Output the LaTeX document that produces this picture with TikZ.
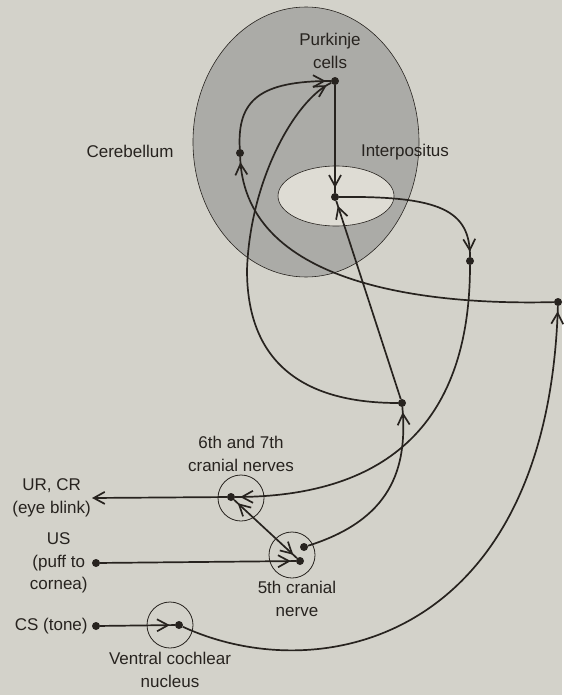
\documentclass[tikz,border=0pt]{standalone}
\usepackage{fontspec}
\setmainfont{Liberation Sans}
\usetikzlibrary{arrows.meta,positioning,decorations.markings}
\definecolor{paper}{HTML}{D3D2CA}
\definecolor{cortex}{HTML}{ABABA7}
\definecolor{nucleus}{HTML}{DEDCD4}
\definecolor{ink}{HTML}{27231F}

\begin{document}
\begin{tikzpicture}[x=1pt, y=-1pt,
        >={Straight Barb[length=11pt, width=12pt]},
        txt/.style={text=ink, align=center, font=\fontsize{17}{22.5}\selectfont, inner sep=1pt},
        dot/.style={circle, fill=ink, minimum size=8pt, inner sep=0pt},
        ring/.style={circle, draw=ink, line width=0.8pt, minimum size=46pt, inner sep=0pt},
        fibre/.style={draw=ink, line width=1.7pt},
        tipin/.style={postaction={decorate}, decoration={markings, mark=at position -5pt with {\arrow{>}}}},
        tipboth/.style={postaction={decorate}, decoration={markings, mark=at position 5pt with {\arrowreversed{>}}, mark=at position -5pt with {\arrow{>}}}}
    ]
        % Fundo
        \fill[paper] (0,0) rectangle (562,695);

        % Cerebelo e interpositus
        \draw[draw=ink, fill=cortex, line width=0.6pt] (306,142) ellipse [x radius=113pt, y radius=135pt];
        \draw[draw=ink, fill=nucleus, line width=0.6pt] (336,196) ellipse [x radius=58pt, y radius=30pt];

        % Pontos no cerebelo
        \node[dot] (pk) at (335,81) {};
        \node[dot] (ip) at (335,197) {};
        \node[dot] (gc) at (240,153) {};
        \node[dot] (rn) at (470,261) {};
        \node[dot] (pon) at (558,302) {};
        \node[dot] (io) at (402,403) {};

        % Nervos cranianos
        \node[ring] (r67) at (241,498) {};
        \node[ring] (r5) at (292,555) {};
        \node[ring] (rvc) at (170,625) {};
        \node[dot] (m67) at (231,497) {};
        \node[dot] (t5a) at (304,547) {};
        \node[dot] (t5b) at (300,561) {};
        \node[dot] (vc) at (179,625) {};
        \node[dot] (cs) at (96,626) {};
        \node[dot] (us) at (96,563) {};
        \coordinate (ur) at (92,498);

        % Rotulos
        \node[txt] (lpk) at (330,51) {Purkinje\\cells};
        \node[txt] (lcb) at (130,151) {Cerebellum};
        \node[txt] (lip) at (405,152) {Interpositus};
        \node[txt, above=2pt of r67] (l67) {6th and 7th\\cranial nerves};
        \node[txt, below=2pt of r5, xshift=5pt] (l5) {5th cranial\\nerve};
        \node[txt, below=3pt of rvc] (lvc) {Ventral cochlear\\nucleus};
        \node[txt, left=3pt of cs] (lcs) {CS (tone)};
        \node[txt, left=3pt of us] (lus) {US\\(puff to\\cornea)};
        \node[txt, left=0pt of ur] (lur) {UR, CR\\(eye blink)};

        % Entradas
        \draw[fibre, tipin] (cs) -- (vc);
        \draw[fibre, tipin] (us) -- (t5b);
        \draw[fibre, tipboth] (t5b) -- (m67);
        \draw[fibre, ->] (m67) -- (ur);

        % Vias ascendentes
        \draw[fibre, tipin] (vc) .. controls (320,690) and (548,640) .. (pon);
        \draw[fibre, tipin] (pon) .. controls (440,305) and (245,290) .. (gc);
        \draw[fibre, tipin] (gc) .. controls (237,100) and (260,81) .. (pk);
        \draw[fibre, tipin] (t5a) .. controls (390,520) and (408,470) .. (io);
        \draw[fibre, tipin] (io) -- (ip);
        \draw[fibre, tipin] (io) .. controls (300,403) and (247,360) .. (247,270)
            .. controls (250,180) and (295,100) .. (pk);

        % Saida
        \draw[fibre, tipin] (pk) -- (ip);
        \draw[fibre, tipin] (ip) .. controls (440,196) and (470,210) .. (rn);
        \draw[fibre, tipin] (rn) .. controls (470,430) and (380,497) .. (m67);
    \end{tikzpicture}
\end{document}
